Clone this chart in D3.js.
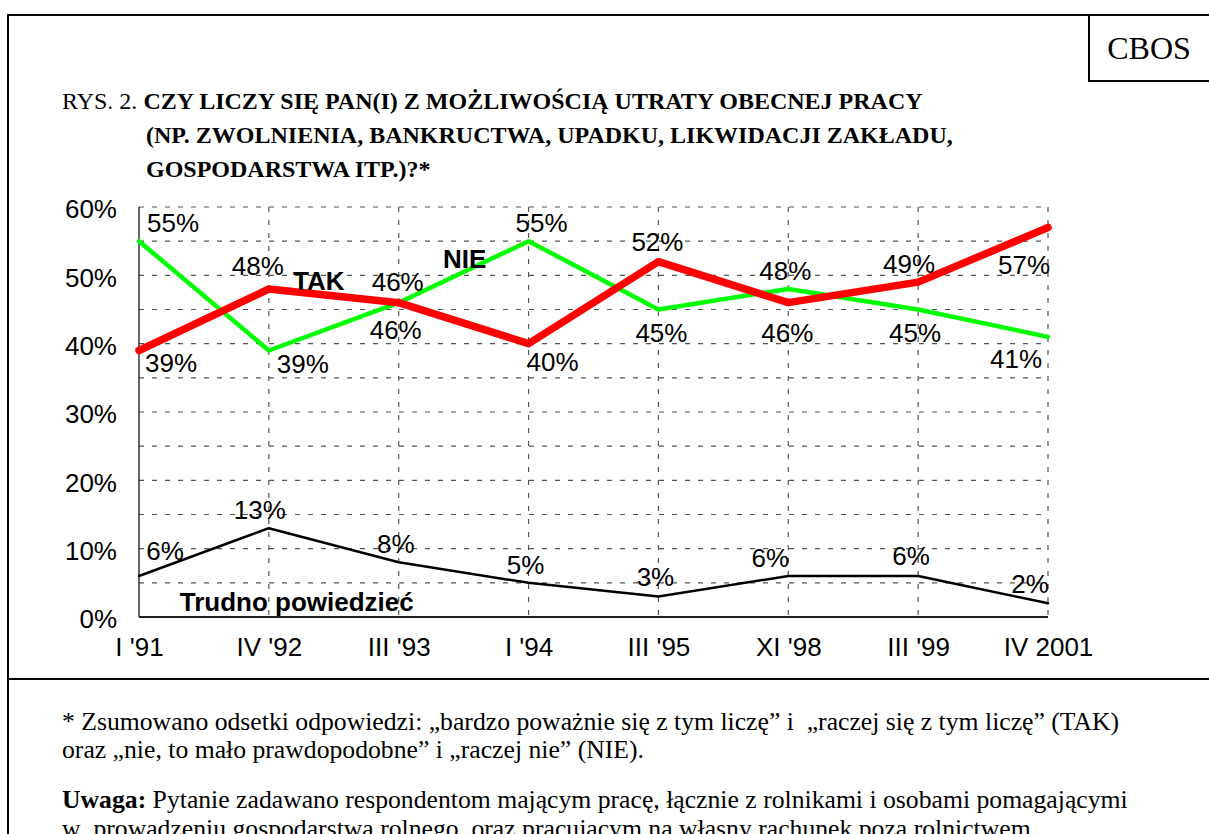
<!DOCTYPE html>
<html>
<head>
<meta charset="utf-8">
<title>CBOS - Rys. 2</title>
<style>
body { margin: 0; background: #fff; }
svg { display: block; }
.frame { fill: none; stroke: #000; stroke-width: 2px; }
.grid line { stroke: #555; stroke-width: 1.2px; stroke-dasharray: 5 8; }
.axis path, .axis line { display: none; }
.axis text { font: 26px "Liberation Sans", Arial, sans-serif; fill: #000; }
.val { font: 26px "Liberation Sans", Arial, sans-serif; fill: #000; text-anchor: middle; }
.name { font: bold 26px "Liberation Sans", Arial, sans-serif; fill: #000; text-anchor: middle; }
.serif { font-family: "Liberation Serif", "Times New Roman", serif; fill: #000; white-space: pre; }
</style>
</head>
<body>
<script src="https://cdn.jsdelivr.net/npm/d3@7"></script>
<script>
// data
var periods = ["I '91", "IV '92", "III '93", "I '94", "III '95", "XI '98", "III '99", "IV 2001"];
var tak = [39, 48, 46, 40, 52, 46, 49, 57];
var nie = [55, 39, 46, 55, 45, 48, 45, 41];
var trudno = [6, 13, 8, 5, 3, 6, 6, 2];
var yTicks = [0, 10, 20, 30, 40, 50, 60];
var gridValues = d3.range(5, 61, 5);

// where each value label sits relative to its point (px)
var takOffsets = [[32, 12], [-11, -23], [-1, -21], [24, 18], [-1, -20], [-1, 30], [-9, -19], [-24, 37]];
var nieOffsets = [[34, -19], [34, 13], [-3, 27], [13, -19], [3, 23], [-3, -18], [-3, 23], [-32, 22]];
var trudnoOffsets = [[26, -25], [-9, -19], [-3, -19], [-3, -18], [-3, -20], [-18, -18], [-7, -20], [-18, -20]];

var width = 1209, height = 834;

var svg = d3.select("body").append("svg")
  .attr("width", width)
  .attr("height", height);

// page frame
svg.append("path")
  .attr("class", "frame")
  .attr("d", "M8,840V15H1215 M8,679H1215 M1089,15V81H1215");

svg.append("text")
  .attr("class", "serif")
  .attr("x", 1149)
  .attr("y", 59)
  .attr("text-anchor", "middle")
  .style("font-size", "32px")
  .text("CBOS");

// title
var title = svg.append("text")
  .attr("class", "serif")
  .style("font-size", "24px");
title.append("tspan").attr("x", 62).attr("y", 109).text("RYS. 2. ");
title.append("tspan").style("font-weight", "bold")
  .text("CZY LICZY SIĘ PAN(I) Z MOŻLIWOŚCIĄ UTRATY OBECNEJ PRACY");
title.append("tspan").style("font-weight", "bold").attr("x", 146).attr("y", 143)
  .text("(NP. ZWOLNIENIA, BANKRUCTWA, UPADKU, LIKWIDACJI ZAKŁADU,");
title.append("tspan").style("font-weight", "bold").attr("x", 146).attr("y", 177)
  .text("GOSPODARSTWA ITP.)?*");

// scales
var x = d3.scalePoint().domain(periods).range([139, 1048]);
var y = d3.scaleLinear().domain([0, 60]).range([617, 207]);

// dashed grid
var grid = svg.append("g").attr("class", "grid");
grid.selectAll(".h")
  .data(gridValues)
  .enter().append("line")
  .attr("x1", x.range()[0]).attr("x2", x.range()[1])
  .attr("y1", function(d) { return y(d); })
  .attr("y2", function(d) { return y(d); });
grid.selectAll(".v")
  .data(periods.slice(1))
  .enter().append("line")
  .attr("x1", function(d) { return x(d); })
  .attr("x2", function(d) { return x(d); })
  .attr("y1", y(60)).attr("y2", y(0));

// solid axis lines
svg.append("line")
  .attr("x1", x(periods[0])).attr("x2", x(periods[0]))
  .attr("y1", y(60)).attr("y2", y(0))
  .attr("stroke", "#000").attr("stroke-width", 1.2);
svg.append("line")
  .attr("x1", x.range()[0]).attr("x2", x.range()[1])
  .attr("y1", y(0)).attr("y2", y(0))
  .attr("stroke", "#222").attr("stroke-width", 1.8);

svg.append("g")
  .attr("class", "axis")
  .attr("transform", "translate(" + x.range()[0] + ",0)")
  .call(d3.axisLeft(y).tickValues(yTicks).tickSize(0).tickPadding(22)
    .tickFormat(function(d) { return d + "%"; }))
  .selectAll("text").attr("dy", "0.42em");

svg.append("g")
  .attr("class", "axis")
  .attr("transform", "translate(0," + y(0) + ")")
  .call(d3.axisBottom(x).tickSize(0).tickPadding(21));

// series lines
var line = d3.line()
  .x(function(d, i) { return x(periods[i]); })
  .y(function(d) { return y(d); });

var series = [
  {name: "Trudno powiedzieć", values: trudno, color: "#000", width: 2.5, offsets: trudnoOffsets, nameAt: [2, -102, 39]},
  {name: "NIE", values: nie, color: "#00ff00", width: 4.5, offsets: nieOffsets, nameAt: [3, -64, 17]},
  {name: "TAK", values: tak, color: "#ff0000", width: 7.5, offsets: takOffsets, nameAt: [1, 50, -8]}
];

series.forEach(function(s) {
  svg.append("path")
    .datum(s.values)
    .attr("d", line)
    .attr("fill", "none")
    .attr("stroke", s.color)
    .attr("stroke-width", s.width)
    .attr("stroke-linejoin", "round")
    .attr("stroke-linecap", "round");
});

series.forEach(function(s) {
  svg.append("g").selectAll("text")
    .data(s.values)
    .enter().append("text")
    .attr("class", "val")
    .attr("x", function(d, i) { return x(periods[i]) + s.offsets[i][0]; })
    .attr("y", function(d, i) { return y(d) + s.offsets[i][1]; })
    .attr("dy", "0.36em")
    .text(function(d) { return d + "%"; });

  var k = s.nameAt[0];
  svg.append("text")
    .attr("class", "name")
    .attr("x", x(periods[k]) + s.nameAt[1])
    .attr("y", y(s.values[k]) + s.nameAt[2])
    .attr("dy", "0.36em")
    .text(s.name);
});

// notes under the chart
var notes = svg.append("text")
  .attr("class", "serif")
  .style("font-size", "25.7px");
notes.append("tspan").attr("x", 62).attr("y", 730)
  .text("* Zsumowano odsetki odpowiedzi: „bardzo poważnie się z tym liczę” i  „raczej się z tym liczę” (TAK)");
notes.append("tspan").attr("x", 62).attr("y", 758)
  .text("oraz „nie, to mało prawdopodobne” i „raczej nie” (NIE).");
notes.append("tspan").attr("x", 62).attr("y", 808).style("font-weight", "bold").text("Uwaga:");
notes.append("tspan")
  .text(" Pytanie zadawano respondentom mającym pracę, łącznie z rolnikami i osobami pomagającymi");
notes.append("tspan").attr("x", 62).attr("y", 837)
  .text("w  prowadzeniu gospodarstwa rolnego, oraz pracującym na własny rachunek poza rolnictwem.");
</script>
</body>
</html>
